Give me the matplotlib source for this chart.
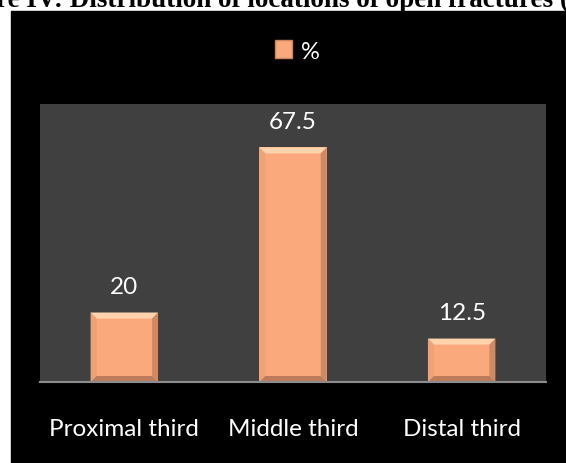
import numpy as np
import matplotlib
matplotlib.use('Agg')
import matplotlib.pyplot as plt
from matplotlib.patches import Rectangle, Polygon, Patch

categories = ['Proximal third', 'Middle third', 'Distal third']
percent = [20, 67.5, 12.5]
value_labels = ['20', '67.5', '12.5']
series_name = '%'
title_text = 're IV: Distribution of locations of open fractures ('

W, H = 566, 464
fig = plt.figure(figsize=(W / 100, H / 100), dpi=100)
fig.patch.set_facecolor('white')

# black chart panel (cropped screenshot of an Excel chart)
fig.patches.append(Rectangle((11 / W, 0), 1 - 11 / W, 1 - 12 / H,
                             transform=fig.transFigure, color='black', zorder=-10))

fig.text(0.5, 1 - 7 / H, title_text, ha='center', va='baseline',
         fontsize=19.5, fontweight='bold', family='Liberation Serif', color='black')

ax = fig.add_axes([40 / W, 1 - 383 / H, (546 - 40) / W, (383 - 105) / H])
ax.set_facecolor('#404040')
ax.set_xlim(-0.5, 2.5)
ax.set_ylim(0, 80)

x = np.arange(len(categories))
bw = 0.4
face = '#F9A97C'
ax.bar(x, percent, width=bw, color=face, zorder=2)

# bevel on each bar, about 6 px wide
px_x = 3.0 / 506
px_y = 80.0 / 278
bx, by = 6 * px_x, 6 * px_y
for xi, v, lab in zip(x, percent, value_labels):
    l, r = xi - bw / 2, xi + bw / 2
    sides = [
        ([(l, v), (r, v), (r - bx, v - by), (l + bx, v - by)], '#FFD3AE'),
        ([(l, 0), (l, v), (l + bx, v - by), (l + bx, by)], '#EFA275'),
        ([(r, 0), (r, v), (r - bx, v - by), (r - bx, by)], '#CF8A63'),
        ([(l, 0), (r, 0), (r - bx, by), (l + bx, by)], '#BC7C5B'),
    ]
    for pts, c in sides:
        ax.add_patch(Polygon(pts, closed=True, color=c, lw=0, zorder=3))
    ax.annotate(lab, (xi, v), xytext=(0, 19),
                textcoords='offset points', ha='center', va='center',
                color='white', fontsize=17.5, family='Lato')

for s in ['top', 'left', 'right']:
    ax.spines[s].set_visible(False)
ax.spines['bottom'].set_color('#8C8C8C')
ax.spines['bottom'].set_linewidth(1.5)
ax.spines['bottom'].set_zorder(4)
ax.set_yticks([])
ax.set_xticks([])
for xi, lab in zip(x, categories):
    ax.text(xi, -46 / 278, lab, transform=ax.get_xaxis_transform(),
            ha='center', va='center', color='white', fontsize=17.5, family='Lato')

handle = Patch(facecolor=face, edgecolor='#C98560', linewidth=1)
fig.legend([handle], [series_name], loc='center', bbox_to_anchor=(297 / W, 1 - 52 / H),
           frameon=False, labelcolor='white', handlelength=0.75,
           handleheight=0.8, handletextpad=0.35, prop={'family': 'Lato', 'size': 17})

fig.savefig('out.png', dpi=100)
